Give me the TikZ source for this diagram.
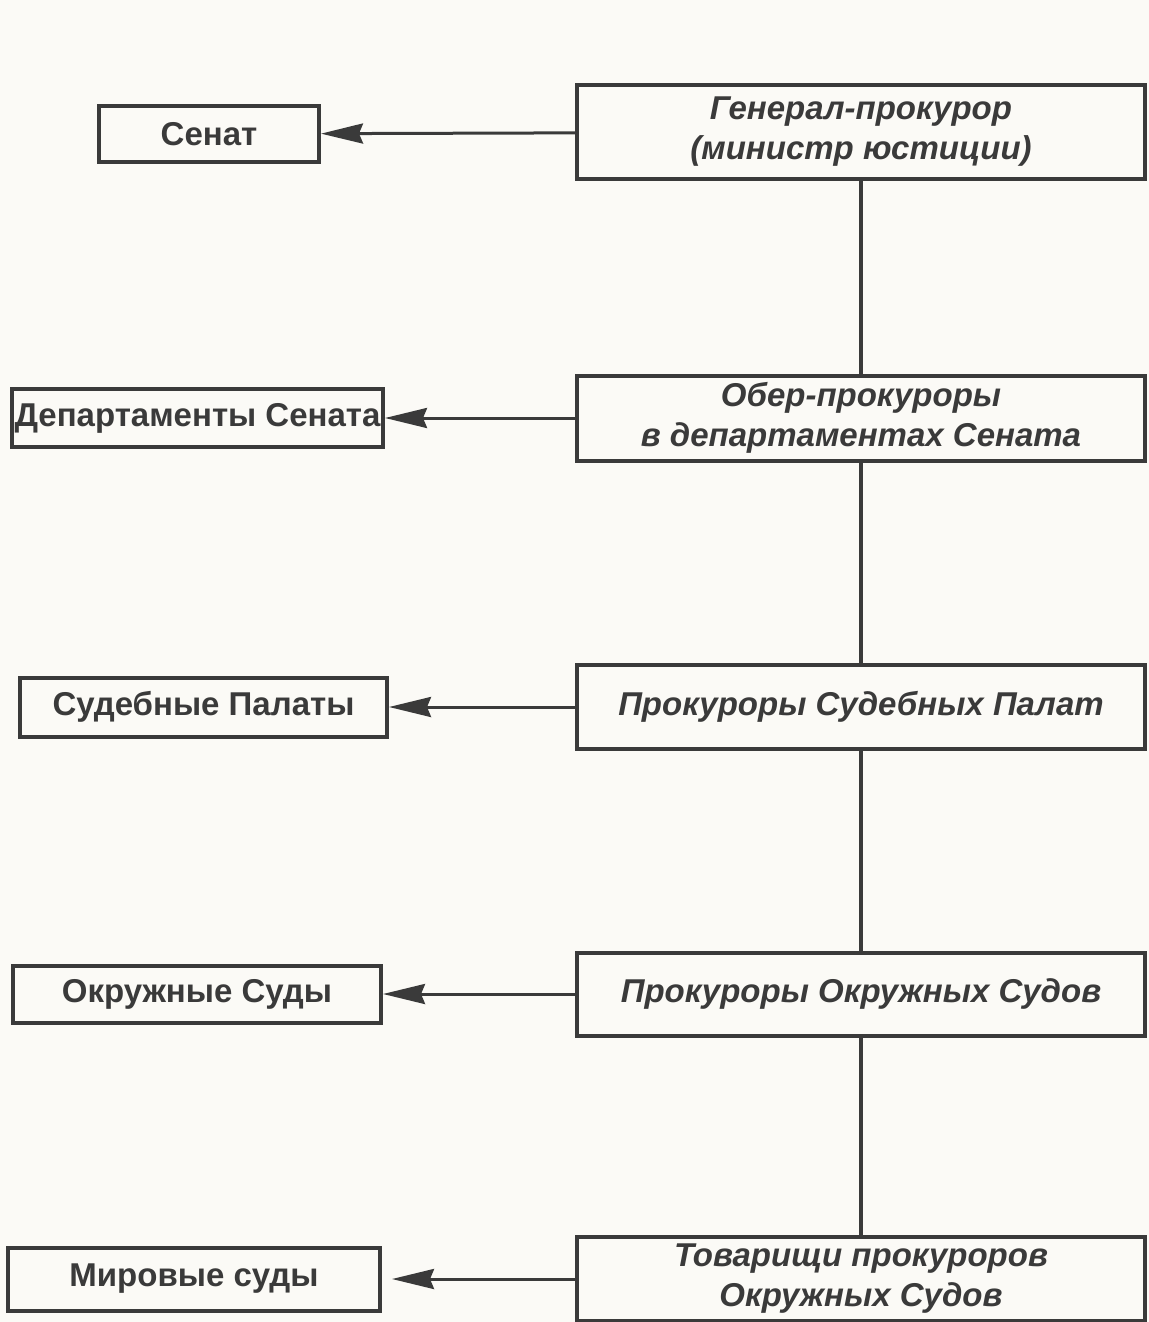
\documentclass[tikz,border=0pt]{standalone}
\usepackage{fontspec}
\setmainfont{Liberation Sans}
\usepackage{tikz}
\usetikzlibrary{arrows.meta}
\definecolor{ink}{HTML}{3A3A3A}
\definecolor{paper}{HTML}{FBFAF6}

\tikzset{
  box/.style={draw=ink, line width=2pt, text=ink, inner sep=0pt, align=center,
    font=\fontsize{16.5}{20}\selectfont\bfseries},
  right box/.style={box, minimum width=284pt, font=\fontsize{16.5}{20}\selectfont\bfseries\itshape},
}

\begin{document}
\begin{tikzpicture}[x=0.5pt, y=-0.5pt, >={Stealth[length=21pt,width=10pt,inset=2pt]}]
    \fill[paper] (0,0) rectangle (1149,1322);
    \useasboundingbox (0,0) rectangle (1149,1322);
    % left column
    \node[box, minimum width=110pt, minimum height=27.5pt] (a) at (209, 134) {Сенат};
    \node[box, minimum width=185.5pt, minimum height=29pt] (b) at (197.5, 418) {Департаменты Сената};
    \node[box, minimum width=183.5pt, minimum height=29.5pt] (c) at (203.5, 707) {Судебные Палаты};
    \node[box, minimum width=184pt, minimum height=28.5pt] (d) at (197, 994) {Окружные Суды};
    \node[box, minimum width=186pt, minimum height=31.5pt] (e) at (194, 1279) {Мировые суды};
    % right column
    \node[right box, minimum height=47pt] (f) at (861, 132) {Генерал-прокурор\\(министр юстиции)};
    \node[right box, minimum height=42.5pt] (g) at (861, 418) {Обер-прокуроры\\в департаментах Сената};
    \node[right box, minimum height=42pt] (h) at (861, 707) {Прокуроры Судебных Палат};
    \node[right box, minimum height=41.5pt] (i) at (861, 994) {Прокуроры Окружных Судов};
    \node[right box, minimum height=42pt] (j) at (861, 1279) {Товарищи прокуроров\\Окружных Судов};
    \draw [ink, line width=2pt] (f) to (g);
    \draw [ink, line width=2pt] (g) to (h);
    \draw [ink, line width=2pt] (h) to (i);
    \draw [ink, line width=2pt] (i) to (j);
    \draw [->, ink, line width=1.5pt] (f) to (a);
    \draw [->, ink, line width=1.5pt] (g) to (b);
    \draw [->, ink, line width=1.5pt] (h) to (c);
    \draw [->, ink, line width=1.5pt] (i) to (d);
    \draw [->, ink, line width=1.5pt, shorten >=5pt] (j) to (e);
  \end{tikzpicture}
\end{document}
